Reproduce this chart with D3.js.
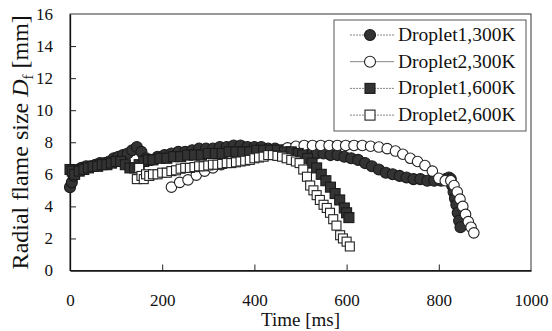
<!DOCTYPE html>
<html>
<head>
<meta charset="utf-8">
<script src="https://cdn.jsdelivr.net/npm/d3@7"></script>
<style>
  html, body { margin: 0; padding: 0; background: #fff; }
  svg { display: block; }
  svg text { font-family: "Liberation Serif", "Times New Roman", serif; }
</style>
</head>
<body>
<svg id="chart" width="552" height="331"></svg>
<script>
// Droplet1, 300K (filled circles)
const d1_300_t = [0, 4, 8, 12, 18, 25, 35, 45, 55, 65, 75, 85, 95, 105, 115, 125, 135, 145, 155, 165, 175, 190, 205, 220, 235, 250, 265, 280, 295, 310, 325, 340, 355, 370, 385, 400, 415, 430, 445, 460, 475, 490, 505, 520, 535, 550, 565, 580, 595, 610, 625, 640, 655, 670, 685, 700, 715, 730, 745, 760, 775, 790, 805, 815, 822, 826, 829, 832, 835, 838, 841, 844, 847];
const d1_300_v = [5.2, 5.5, 5.9, 6.1, 6.3, 6.4, 6.5, 6.5, 6.6, 6.7, 6.7, 6.8, 7.0, 7.1, 7.2, 7.3, 7.5, 7.7, 7.4, 7.0, 6.9, 7.1, 7.2, 7.3, 7.4, 7.4, 7.5, 7.6, 7.6, 7.6, 7.7, 7.7, 7.8, 7.8, 7.7, 7.7, 7.7, 7.6, 7.6, 7.5, 7.5, 7.4, 7.4, 7.3, 7.3, 7.3, 7.2, 7.2, 7.1, 7.0, 6.9, 6.7, 6.5, 6.3, 6.1, 6.0, 5.9, 5.8, 5.7, 5.7, 5.6, 5.6, 5.6, 5.7, 5.8, 5.7, 5.3, 4.9, 4.5, 4.1, 3.6, 3.1, 2.7];

// Droplet2, 300K (open circles)
const d2_300_t = [220, 238, 256, 274, 292, 310, 328, 346, 364, 382, 400, 418, 436, 454, 472, 490, 508, 526, 544, 562, 580, 598, 616, 634, 652, 670, 688, 706, 722, 738, 754, 770, 786, 800, 814, 826, 833, 840, 846, 852, 858, 864, 870, 876];
const d2_300_v = [5.2, 5.5, 5.65, 5.95, 6.2, 6.4, 6.6, 6.8, 7.0, 7.1, 7.2, 7.3, 7.4, 7.5, 7.65, 7.75, 7.8, 7.8, 7.8, 7.8, 7.8, 7.8, 7.8, 7.8, 7.75, 7.7, 7.6, 7.45, 7.25, 7.0, 6.8, 6.55, 6.2, 5.75, 5.6, 5.6, 5.3, 4.9, 4.45, 4.0, 3.5, 3.05, 2.7, 2.35];

// Droplet1, 600K (filled squares)
const d1_600_t = [0, 5, 10, 20, 30, 40, 50, 60, 70, 80, 90, 100, 110, 120, 130, 140, 150, 160, 170, 180, 195, 210, 225, 240, 255, 270, 285, 300, 315, 330, 345, 360, 375, 390, 405, 420, 435, 450, 465, 480, 495, 505, 515, 525, 535, 545, 555, 565, 575, 585, 595, 600, 605];
const d1_600_v = [6.3, 6.2, 6.0, 6.2, 6.3, 6.4, 6.5, 6.5, 6.6, 6.6, 6.7, 6.8, 6.8, 6.6, 6.4, 6.4, 6.6, 6.8, 6.9, 6.9, 7.0, 7.0, 7.1, 7.1, 7.2, 7.2, 7.2, 7.3, 7.3, 7.3, 7.4, 7.4, 7.4, 7.4, 7.5, 7.5, 7.5, 7.5, 7.4, 7.4, 7.3, 7.2, 7.0, 6.7, 6.4, 6.0, 5.6, 5.2, 4.8, 4.4, 3.9, 3.6, 3.3];

// Droplet2, 600K (open squares)
const d2_600_t = [145, 150, 155, 160, 165, 172, 180, 190, 200, 210, 220, 230, 240, 250, 260, 270, 280, 290, 300, 310, 320, 330, 340, 350, 360, 370, 380, 390, 400, 410, 420, 430, 440, 450, 460, 470, 480, 490, 498, 506, 514, 521, 528, 535, 542, 550, 557, 564, 571, 578, 586, 592, 600, 607];
const d2_600_v = [5.7, 6.4, 5.9, 5.7, 6.0, 5.9, 6.0, 6.0, 6.1, 6.1, 6.2, 6.25, 6.35, 6.4, 6.4, 6.45, 6.5, 6.5, 6.55, 6.6, 6.6, 6.65, 6.7, 6.7, 6.75, 6.8, 6.85, 6.9, 7.0, 7.05, 7.1, 7.2, 7.2, 7.15, 7.1, 7.0, 6.9, 6.8, 6.7, 6.3, 5.85, 5.3, 5.0, 4.7, 4.4, 4.1, 3.9, 3.6, 3.2, 2.8, 2.2, 2.0, 1.8, 1.5];

const seriesNames = ['Droplet1,300K', 'Droplet2,300K', 'Droplet1,600K', 'Droplet2,600K'];
const xTicks = [0, 200, 400, 600, 800, 1000];
const yTicks = [0, 2, 4, 6, 8, 10, 12, 14, 16];

const margin = {top: 14, right: 21, bottom: 60.5, left: 70};
const width = 552, height = 331;
const innerW = width - margin.left - margin.right;
const innerH = height - margin.top - margin.bottom;

const zip = (ts, vs) => ts.map((t, i) => ({t: t, v: vs[i]}));
const series = [
  {name: seriesNames[0], data: zip(d1_300_t, d1_300_v), shape: 'circle', filled: true},
  {name: seriesNames[1], data: zip(d2_300_t, d2_300_v), shape: 'circle', filled: false},
  {name: seriesNames[2], data: zip(d1_600_t, d1_600_v), shape: 'square', filled: true},
  {name: seriesNames[3], data: zip(d2_600_t, d2_600_v), shape: 'square', filled: false}
];

const serif = '"Liberation Serif", "Times New Roman", serif';
const svg = d3.select('#chart');
const g = svg.append('g').attr('transform', `translate(${margin.left},${margin.top})`);

const x = d3.scaleLinear().domain([0, 1000]).range([0, innerW]);
const y = d3.scaleLinear().domain([0, 16]).range([innerH, 0]);

// frame
g.append('rect')
  .attr('width', innerW).attr('height', innerH)
  .attr('fill', 'none').attr('stroke', '#333').attr('stroke-width', 1);

// axes with inward ticks
const xAxis = g.append('g').attr('transform', `translate(0,${innerH})`)
  .call(d3.axisBottom(x).tickValues(xTicks).tickFormat(d3.format('d'))
    .tickSizeInner(-6).tickSizeOuter(0).tickPadding(23));
const yAxis = g.append('g')
  .call(d3.axisLeft(y).tickValues(yTicks).tickFormat(d3.format('d'))
    .tickSizeInner(-6).tickSizeOuter(0).tickPadding(17));

[xAxis, yAxis].forEach(a => {
  a.attr('font-family', serif).attr('font-size', 17);
  a.select('.domain').attr('stroke', '#111').attr('stroke-width', 1.3);
  a.selectAll('.tick line').attr('stroke', '#222');
  a.selectAll('.tick text').style('font-family', serif).attr('fill', '#111');
});
xAxis.selectAll('.tick').filter(d => d === 0 || d === 1000).select('line').remove();
yAxis.selectAll('.tick').filter(d => d === 0 || d === 16).select('line').remove();

// series
const line = d3.line().x(d => x(d.t)).y(d => y(d.v));
const darkFill = '#333';

function drawMarker(sel, s, size) {
  if (s.shape === 'circle') {
    sel.append('circle').attr('r', size / 2);
  } else {
    sel.append('rect').attr('x', -size / 2).attr('y', -size / 2)
      .attr('width', size).attr('height', size);
  }
  sel.selectAll('circle, rect')
    .attr('fill', s.filled ? darkFill : '#fff')
    .attr('stroke', s.filled ? '#1a1a1a' : '#222')
    .attr('stroke-width', 1.1);
}

series.forEach(s => {
  const sg = g.append('g');
  sg.append('path').datum(s.data)
    .attr('d', line).attr('fill', 'none')
    .attr('stroke', '#888').attr('stroke-width', 0.7);
  sg.selectAll('g.pt').data(s.data).join('g')
    .attr('class', 'pt')
    .attr('transform', d => `translate(${x(d.t)},${y(d.v)})`)
    .each(function() {
      const size = s.shape === 'circle' ? (s.filled ? 11 : 10.5) : (s.filled ? 10 : 9);
      drawMarker(d3.select(this), s, size);
    });
});

// legend
const lg = svg.append('g').attr('transform', 'translate(334,20)');
lg.append('rect').attr('width', 192).attr('height', 111)
  .attr('fill', '#fff').attr('stroke', '#555').attr('stroke-width', 1);
series.forEach((s, i) => {
  const row = lg.append('g').attr('transform', `translate(0,${15 + i * 26.7})`);
  row.append('line').attr('x1', 16).attr('x2', 60).attr('y1', 0).attr('y2', 0)
    .attr('stroke', '#666').attr('stroke-width', 0.8)
    .attr('stroke-dasharray', i === 1 ? null : '2,1');
  const m = row.append('g').attr('transform', 'translate(36,0)');
  drawMarker(m, s, s.shape === 'circle' ? 11 : 10);
  row.append('text').attr('x', 64).attr('y', 6)
    .attr('font-size', 19.5).attr('fill', '#111').text(s.name);
});

// axis titles
svg.append('text')
  .attr('x', margin.left + innerW / 2).attr('y', 326)
  .attr('text-anchor', 'middle').attr('font-size', 19).attr('fill', '#111')
  .text('Time [ms]');

const yt = svg.append('text')
  .attr('transform', `translate(28,${margin.top + innerH / 2}) rotate(-90)`)
  .attr('text-anchor', 'middle').attr('font-size', 24).attr('fill', '#111');
yt.append('tspan').text('Radial flame size ');
yt.append('tspan').attr('font-style', 'italic').text('D');
yt.append('tspan').attr('font-size', 15).attr('dy', 5).text('f');
yt.append('tspan').attr('dy', -5).text(' [mm]');
</script>
</body>
</html>
